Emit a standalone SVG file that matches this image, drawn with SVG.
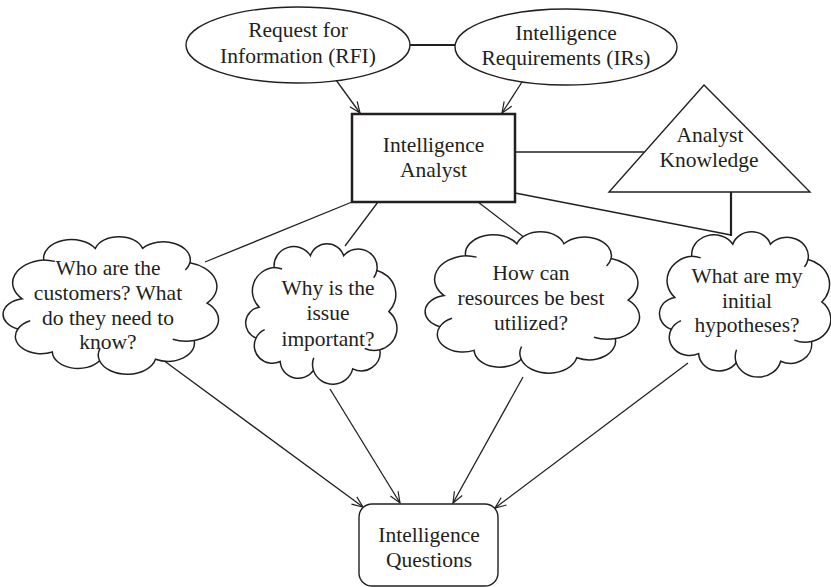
<svg xmlns="http://www.w3.org/2000/svg" width="831" height="587" viewBox="0 0 831 587">
<style>
text{font-family:"Liberation Serif","Times New Roman",serif;font-size:21.5px;fill:#231f20;text-anchor:middle}
.ln{stroke:#231f20;stroke-width:1.3;fill:none}
.thick{stroke:#231f20;stroke-width:2.2;fill:none}
.shape{stroke:#231f20;stroke-width:1.4;fill:#fff}
.cloud{stroke:#231f20;stroke-width:1.5;fill:#fff}
.hook{stroke:#231f20;stroke-width:1.5;fill:none}
</style>
<defs>
<marker id="arr" viewBox="-12 -7 14 14" markerWidth="14" markerHeight="14" refX="0" refY="0" orient="auto" markerUnits="userSpaceOnUse">
<path d="M-11,-4.5 L0,0 L-11,4.5" fill="none" stroke="#231f20" stroke-width="1.2"/>
</marker>
<path id="cloudBody" vector-effect="non-scaling-stroke" d="M8,45 A16,16 0 0 1 18,18 A13,13 0 0 1 42,10 A11.5,11.5 0 0 1 64,10 A12.5,12.5 0 0 1 86,20 A17,17 0 0 1 94,48 A15,15 0 0 1 88,74 A12.5,12.5 0 0 1 70,87 A13.5,13.5 0 0 1 44,88 A12,12 0 0 1 22,82 A12,12 0 0 1 6,66 A11,11 0 0 1 8,45 Z"/>
<path id="cloudHooks" vector-effect="non-scaling-stroke" d="M6,66 A12,12 0 0 1 11.7,60.3 M88,74 A15,15 0 0 1 78,73.1 M44,88 A13.5,13.5 0 0 1 44.2,79.4 M86,20 A12.5,12.5 0 0 1 83.9,25 M18,18 A16,16 0 0 1 23.2,19"/>
</defs>

<g id="connectors">
<path class="thick" d="M410,45 L455,45"/>
<path class="ln" d="M336,80 L360,113" marker-end="url(#arr)"/>
<path class="ln" d="M522,82 L502,113" marker-end="url(#arr)"/>
<path class="ln" d="M515,152 L644,152"/>
<path class="ln" d="M515,193 L731,235"/>
<path class="thick" d="M731,192 L731,236"/>
<path class="ln" d="M352,202 L205,262"/>
<path class="ln" d="M378,202 L345,246"/>
<path class="ln" d="M478,202 L525,238"/>
<path class="ln" d="M163,360 L363,507" marker-end="url(#arr)"/>
<path class="ln" d="M330,389 L400,503" marker-end="url(#arr)"/>
<path class="ln" d="M523,377 L453,503" marker-end="url(#arr)"/>
<path class="ln" d="M688,363 L495,508" marker-end="url(#arr)"/>
</g>

<g id="rfi">
<ellipse class="shape" cx="298" cy="45" rx="112" ry="38"/>
<text x="298" y="37">Request for</text>
<text x="298" y="63">Information (RFI)</text>
</g>

<g id="irs">
<ellipse class="shape" cx="566" cy="47" rx="111" ry="38"/>
<text x="566" y="40">Intelligence</text>
<text x="566" y="65">Requirements (IRs)</text>
</g>

<g id="analyst">
<rect x="352" y="114" width="163" height="88" fill="#fff" stroke="#231f20" stroke-width="2.5"/>
<text x="433.5" y="152">Intelligence</text>
<text x="433.5" y="177">Analyst</text>
</g>

<g id="knowledge">
<polygon class="shape" points="704,85 810,192 609,192"/>
<text x="710" y="142">Analyst</text>
<text x="709" y="167">Knowledge</text>
</g>

<g id="cloud-customers">
<g transform="translate(5,234) scale(2.15,1.44)">
<use href="#cloudBody" class="cloud"/>
<use href="#cloudHooks" class="hook"/>
</g>
<text x="108" y="275">Who are the</text>
<text x="108" y="300">customers? What</text>
<text x="108" y="325">do they need to</text>
<text x="108" y="349">know?</text>
</g>

<g id="cloud-why">
<g transform="translate(247,241) scale(1.51,1.47)">
<use href="#cloudBody" class="cloud"/>
<use href="#cloudHooks" class="hook"/>
</g>
<text x="328" y="295">Why is the</text>
<text x="328" y="320">issue</text>
<text x="328" y="346">important?</text>
</g>

<g id="cloud-resources">
<g transform="translate(427,229) scale(2.14,1.48)">
<use href="#cloudBody" class="cloud"/>
<use href="#cloudHooks" class="hook"/>
</g>
<text x="531" y="280">How can</text>
<text x="531" y="305">resources be best</text>
<text x="531" y="330">utilized?</text>
</g>

<g id="cloud-hypotheses">
<g transform="translate(661,229) scale(1.71,1.52)">
<use href="#cloudBody" class="cloud"/>
<use href="#cloudHooks" class="hook"/>
</g>
<text x="747" y="283">What are my</text>
<text x="747" y="308">initial</text>
<text x="747" y="332">hypotheses?</text>
</g>

<g id="questions">
<rect x="359" y="504" width="139" height="82" rx="13" class="shape"/>
<text x="429" y="542">Intelligence</text>
<text x="429" y="567">Questions</text>
</g>
</svg>
